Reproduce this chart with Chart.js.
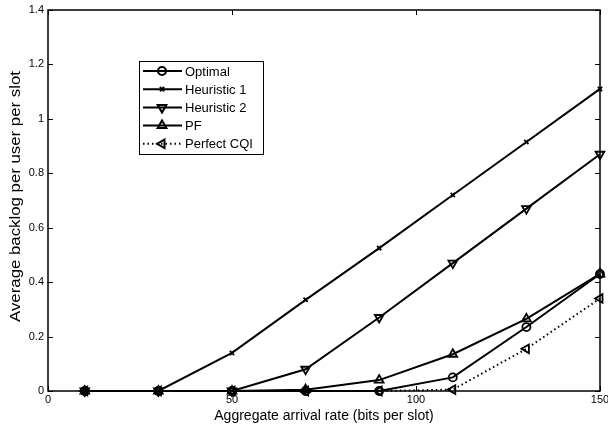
<!DOCTYPE html>
<html>
<head>
<meta charset="utf-8">
<script src="https://cdn.jsdelivr.net/npm/chart.js@4/dist/chart.umd.min.js"></script>
<style>
  html, body { margin: 0; padding: 0; background: #fff; }
  #wrap { width: 608px; height: 429px; }
</style>
</head>
<body>
<div id="wrap"><canvas id="myChart" width="608" height="429"></canvas></div>
<script>
// datos
const arrivalRates = [10, 30, 50, 70, 90, 110, 130, 150];
const optimal     = [0, 0, 0, 0, 0, 0.05, 0.235, 0.43];
const heuristic1  = [0, 0, 0.14, 0.335, 0.525, 0.72, 0.915, 1.11];
const heuristic2  = [0, 0, 0, 0.08, 0.27, 0.47, 0.67, 0.87];
const pf          = [0, 0, 0, 0.005, 0.04, 0.135, 0.265, 0.43];
const perfectCqi  = [0, 0, 0, 0, 0, 0.005, 0.155, 0.34];
const xTicks = [0, 50, 100, 150];
const yTicks = [0, 0.2, 0.4, 0.6, 0.8, 1, 1.2, 1.4];
const yTitle = 'Average backlog per user per slot';

const FONT = '"Liberation Sans", Arial, Helvetica, sans-serif';

function toPoints(ys) {
    return arrivalRates.map((x, i) => ({ x: x, y: ys[i] }));
}

function makeSet(label, ys, style, radius, rotation, dash) {
    return {
        label: label,
        data: toPoints(ys),
        borderColor: '#000',
        backgroundColor: 'transparent',
        borderWidth: 2,
        borderDash: dash || [],
        pointStyle: style,
        pointRadius: radius,
        pointRotation: rotation || 0,
        pointBorderWidth: 1.8,
        pointBorderColor: '#000',
        pointBackgroundColor: 'transparent',
        tension: 0,
        clip: false
    };
}

// marco tipo Matlab con marcas hacia dentro
const framePlugin = {
    id: 'frame',
    afterDatasetsDraw(chart) {
        const ctx = chart.ctx;
        const a = chart.chartArea;
        const xs = chart.scales.x, ys = chart.scales.y;
        ctx.save();
        ctx.strokeStyle = '#000';
        ctx.lineWidth = 1;
        ctx.beginPath();
        xTicks.forEach(v => {
            const px = Math.round(xs.getPixelForValue(v)) + 0.5;
            ctx.moveTo(px, a.bottom); ctx.lineTo(px, a.bottom - 5);
            ctx.moveTo(px, a.top); ctx.lineTo(px, a.top + 5);
        });
        yTicks.forEach(v => {
            const py = Math.round(ys.getPixelForValue(v)) + 0.5;
            ctx.moveTo(a.left, py); ctx.lineTo(a.left + 5, py);
            ctx.moveTo(a.right, py); ctx.lineTo(a.right - 5, py);
        });
        ctx.stroke();
        ctx.lineWidth = 1.5;
        ctx.strokeRect(a.left, a.top, a.right - a.left, a.bottom - a.top);
        ctx.restore();
    }
};

// leyenda con muestra de linea y marcador, y titulo del eje y
const legendPlugin = {
    id: 'boxLegend',
    afterDraw(chart) {
        const ctx = chart.ctx;
        const a = chart.chartArea;
        const bx = 139, by = 61, bw = 124, bh = 93;
        ctx.save();
        ctx.fillStyle = '#fff';
        ctx.fillRect(bx, by, bw, bh);
        ctx.strokeStyle = '#000';
        ctx.lineWidth = 1;
        ctx.strokeRect(bx + 0.5, by + 0.5, bw, bh);
        ctx.font = '13px ' + FONT;
        ctx.textBaseline = 'middle';
        chart.data.datasets.forEach((ds, i) => {
            const cy = by + 10 + i * 18.2;
            ctx.strokeStyle = '#000';
            ctx.lineWidth = ds.borderWidth;
            ctx.setLineDash(ds.borderDash);
            ctx.beginPath();
            ctx.moveTo(bx + 4, cy);
            ctx.lineTo(bx + 43, cy);
            ctx.stroke();
            ctx.setLineDash([]);
            ctx.fillStyle = 'rgba(0,0,0,0)';
            Chart.helpers.drawPoint(ctx, {
                pointStyle: ds.pointStyle,
                rotation: ds.pointRotation,
                radius: ds.pointRadius,
                borderWidth: ds.pointBorderWidth
            }, bx + 23, cy);
            ctx.fillStyle = '#000';
            ctx.fillText(ds.label, bx + 46, cy + 1);
        });
        ctx.restore();

        // titulo vertical algo estirado como en la figura
        ctx.save();
        ctx.translate(20, (a.top + a.bottom) / 2 - 4);
        ctx.rotate(-Math.PI / 2);
        ctx.scale(1.2, 1);
        ctx.font = '14px ' + FONT;
        ctx.fillStyle = '#000';
        ctx.textAlign = 'center';
        ctx.textBaseline = 'alphabetic';
        ctx.fillText(yTitle, 0, 0);
        ctx.restore();
    }
};

const ctx = document.getElementById('myChart').getContext('2d');
const myChart = new Chart(ctx, {
    type: 'line',
    data: {
        datasets: [
            makeSet('Optimal', optimal, 'circle', 4),
            makeSet('Heuristic 1', heuristic1, 'crossRot', 3),
            makeSet('Heuristic 2', heuristic2, 'triangle', 5, 180),
            makeSet('PF', pf, 'triangle', 5),
            makeSet('Perfect CQI', perfectCqi, 'triangle', 5, 270, [1.5, 3])
        ]
    },
    options: {
        responsive: false,
        animation: false,
        layout: { padding: { top: 10, right: 8, left: 0, bottom: 0 } },
        plugins: { legend: { display: false }, tooltip: { enabled: false } },
        scales: {
            x: {
                type: 'linear',
                min: 0, max: 150,
                afterBuildTicks: s => { s.ticks = xTicks.map(v => ({ value: v })); },
                afterFit: s => { s.height = 38; s.paddingLeft = 0; s.paddingRight = 0; },
                grid: { display: false, drawTicks: false },
                border: { display: false },
                ticks: { color: '#000', font: { family: FONT, size: 11 }, padding: 2, maxRotation: 0 },
                title: { display: true, text: 'Aggregate arrival rate (bits per slot)', color: '#000',
                         font: { family: FONT, size: 14 }, padding: { top: 0, bottom: 4 } }
            },
            y: {
                type: 'linear',
                min: 0, max: 1.4,
                afterBuildTicks: s => { s.ticks = yTicks.map(v => ({ value: v })); },
                afterFit: s => { s.width = 48; s.paddingTop = 0; s.paddingBottom = 0; },
                grid: { display: false, drawTicks: false },
                border: { display: false },
                ticks: { color: '#000', font: { family: FONT, size: 11 }, padding: 4,
                         callback: v => String(Number(v.toFixed(1))) },
                title: { display: false }
            }
        }
    },
    plugins: [framePlugin, legendPlugin]
});
</script>
</body>
</html>
